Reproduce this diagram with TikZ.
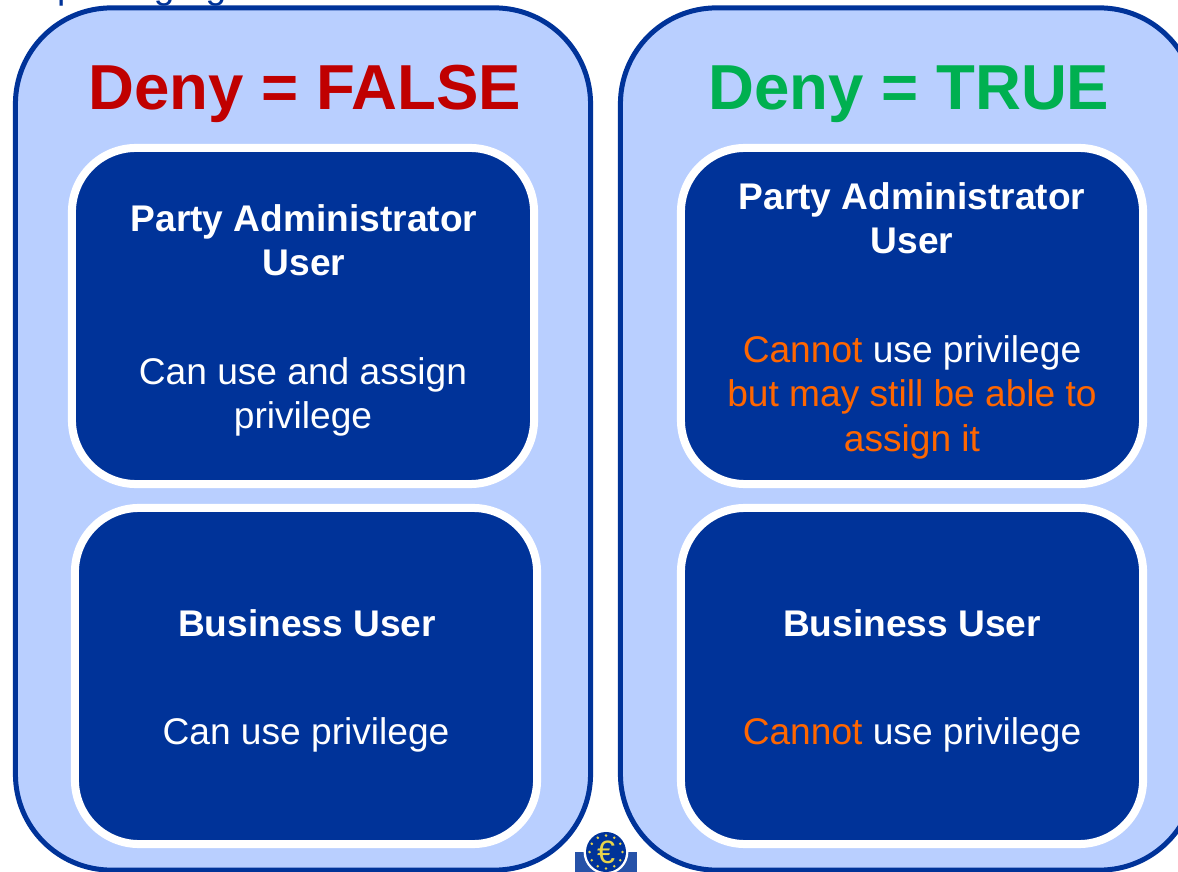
\documentclass[tikz,border=0pt]{standalone}
\usepackage{fontspec}
\setmainfont{Liberation Sans}
\usetikzlibrary{positioning,calc}
\definecolor{panelblue}{HTML}{B9CFFF}
\definecolor{darkblue}{HTML}{003399}
\definecolor{denyred}{HTML}{C00000}
\definecolor{denygreen}{HTML}{00B050}
\definecolor{warnorange}{HTML}{FF6600}
\definecolor{eurogold}{HTML}{E8D44A}
\tikzset{
panel/.style={draw=darkblue,fill=panelblue,line width=0.125cm,rounded corners=2.4cm,minimum width=14.375cm,minimum height=21.55cm},
userbox/.style={draw=white,fill=darkblue,line width=0.2cm,rounded corners=1.6cm,minimum width=11.55cm,minimum height=8.4cm},
headtext/.style={font=\fontsize{45.2}{54}\selectfont\bfseries},
roletext/.style={text=white,align=center,font=\fontsize{26.4}{31.3}\selectfont\bfseries},
usetext/.style={text=white,align=center,font=\fontsize{26.4}{31.6}\selectfont}
}
\newcommand \myuserbox[3]
{
\node[userbox] (#1) at (#2,#3) {};
}
\begin{document}
\begin{tikzpicture}[line join=round,x=0.025cm,y=-0.025cm]
\useasboundingbox (0,0) rectangle (1178,872);
\clip (0,0) rectangle (1178,872);
\node[text=darkblue,anchor=base west,font=\fontsize{26.4}{32}\selectfont] (intro) at (17,-1) {A privilege granted to a User};
\node[panel] (falsepanel) at (303,439) {};
\node[panel] (truepanel) at (908,439) {};
\myuserbox{falsetop}{303}{316}
\myuserbox{falsebottom}{306}{676}
\myuserbox{truetop}{912}{316}
\myuserbox{truebottom}{912}{676}
\node[headtext,text=denyred] (falsehead) at (305,94) {Deny = FALSE};
\node[headtext,text=denygreen] (truehead) at (909,94) {Deny = TRUE};
\node[roletext] (falserole) at (304,240) {Party Administrator\\User};
\node[usetext] (falseuse) at (303,397) {Can use and assign\\privilege};
\node[roletext] (busrole) at (307,623) {Business User};
\node[usetext] (bususe) at (306,735) {Can use privilege};
\node[roletext] (truerole) at (912,218) {Party Administrator\\User};
\node[usetext] (trueuse) at (912,397) {\textcolor{warnorange}{Cannot} use privilege\\\textcolor{warnorange}{but may still be able to}\\\textcolor{warnorange}{assign it}};
\node[roletext] (truebusrole) at (912,623) {Business User};
\node[usetext] (truebususe) at (912,735) {\textcolor{warnorange}{Cannot} use privilege};
% logo
\fill[darkblue!85!white] (575,852) rectangle (637,872);
\fill[white] (606,852) circle (0.56cm);
\fill[darkblue] (606,852) circle (0.5cm);
\foreach \a in {0,30,...,330}
\fill[eurogold] ($(606,852)+(\a:0.41cm)$) circle (0.035cm);
\node[text=eurogold,inner sep=0pt,font=\fontsize{23}{23}\selectfont] (euro) at (606,852) {€};
\end{tikzpicture}
\end{document}
